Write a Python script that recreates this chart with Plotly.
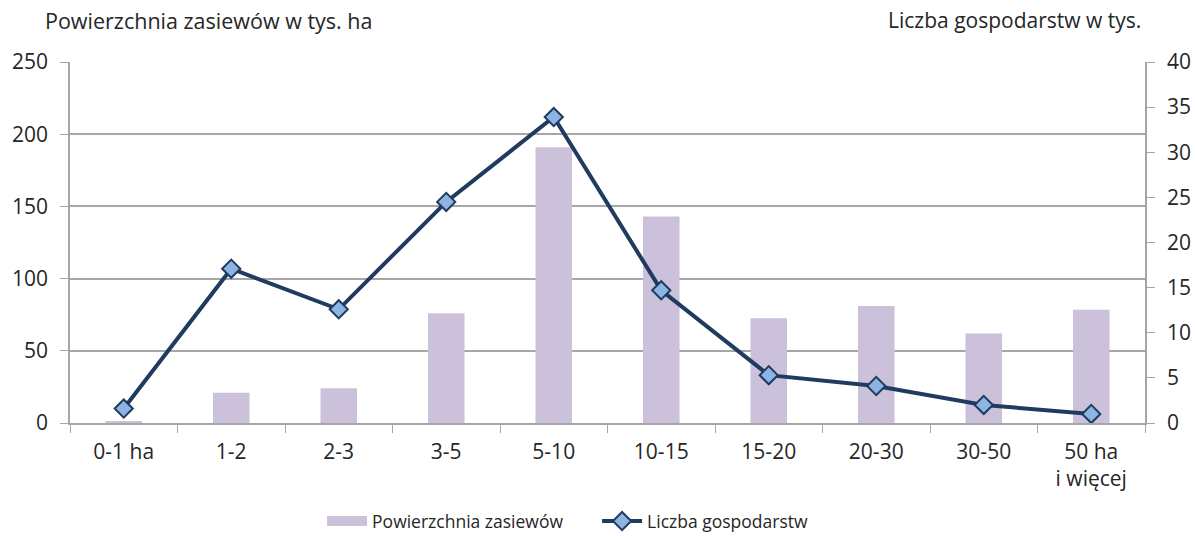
import plotly.graph_objects as go

categories = ["0-1 ha", "1-2", "2-3", "3-5", "5-10", "10-15", "15-20", "20-30", "30-50", "50 ha<br>i więcej"]
area = [1, 21, 24, 76, 191, 143, 72.5, 81, 62, 78.5]
farms = [1.6, 17.1, 12.6, 24.5, 33.9, 14.7, 5.3, 4.1, 2.0, 1.0]

left_ticks = [0, 50, 100, 150, 200, 250]
right_ticks = [0, 5, 10, 15, 20, 25, 30, 35, 40]

FONT = "Open Sans"
TXT = "#262626"
GRID = "#A6A6A6"
BAR = "#CCC1DA"
NAVY = "#1F3B60"

fig = go.Figure()
fig.add_trace(go.Bar(
    x=categories, y=area, name="Powierzchnia zasiewów",
    marker=dict(color=BAR, line=dict(width=0)),
    width=0.34, yaxis="y", showlegend=False, legendgroup="a",
))
# legend entry for bars (wide rectangle swatch)
fig.add_trace(go.Scatter(
    x=[None], y=[None], name="Powierzchnia zasiewów", mode="lines",
    line=dict(color=BAR, width=14), legendgroup="a", showlegend=True,
))
fig.add_trace(go.Scatter(
    x=categories, y=farms, name="Liczba gospodarstw", yaxis="y2",
    mode="lines+markers",
    line=dict(color=NAVY, width=4),
    marker=dict(symbol="diamond", size=14, color="#8DB4E2",
                line=dict(color=NAVY, width=2)),
))

fig.update_layout(
    width=1195, height=536,
    margin=dict(l=70, r=50, t=62, b=113, autoexpand=False),
    paper_bgcolor="white", plot_bgcolor="white",
    font=dict(family=FONT, color=TXT, size=17.5),
    showlegend=True,
    legend=dict(orientation="h", x=0.2345, xanchor="left", y=-0.272, yanchor="middle",
                font=dict(size=17.5, family=FONT, color=TXT), traceorder="normal",
                itemwidth=40, tracegroupgap=0, entrywidth=220),
    xaxis=dict(
        type="category", showgrid=False, showline=True, linecolor=GRID, linewidth=1.5,
        ticks="outside", tickson="boundaries", ticklen=8, tickcolor=GRID,
        tickfont=dict(size=21, family=FONT, color=TXT), ticklabelstandoff=9,
        range=[-0.5, 9.5], automargin=False,
    ),
    yaxis=dict(
        range=[0, 250], tickvals=left_ticks, showgrid=True, gridcolor=GRID, gridwidth=1.5,
        showline=True, linecolor=GRID, linewidth=1.5, ticks="outside", ticklen=8,
        tickcolor=GRID, tickfont=dict(size=21, family=FONT, color=TXT), zeroline=False,
        ticklabelstandoff=8, automargin=False,
    ),
    yaxis2=dict(
        range=[0, 40], tickvals=right_ticks, overlaying="y", side="right",
        showgrid=False, showline=True, linecolor=GRID, linewidth=1.5,
        ticks="outside", ticklen=8, tickcolor=GRID,
        tickfont=dict(size=21, family=FONT, color=TXT), zeroline=False,
        ticklabelstandoff=8, automargin=False,
    ),
    annotations=[
        dict(text="Powierzchnia zasiewów w tys. ha", xref="paper", yref="paper",
             x=-0.025, y=1.116, xanchor="left", yanchor="middle", showarrow=False,
             font=dict(size=21.5, family=FONT, color=TXT)),
        dict(text="Liczba gospodarstw w tys.", xref="paper", yref="paper",
             x=0.998, y=1.116, xanchor="right", yanchor="middle", showarrow=False,
             font=dict(size=21, family=FONT, color=TXT)),
    ],
)

fig.write_html(
    "out.html",
    config={"displayModeBar": False},
    post_script="document.body.style.margin='0';document.body.style.overflow='hidden';",
)
